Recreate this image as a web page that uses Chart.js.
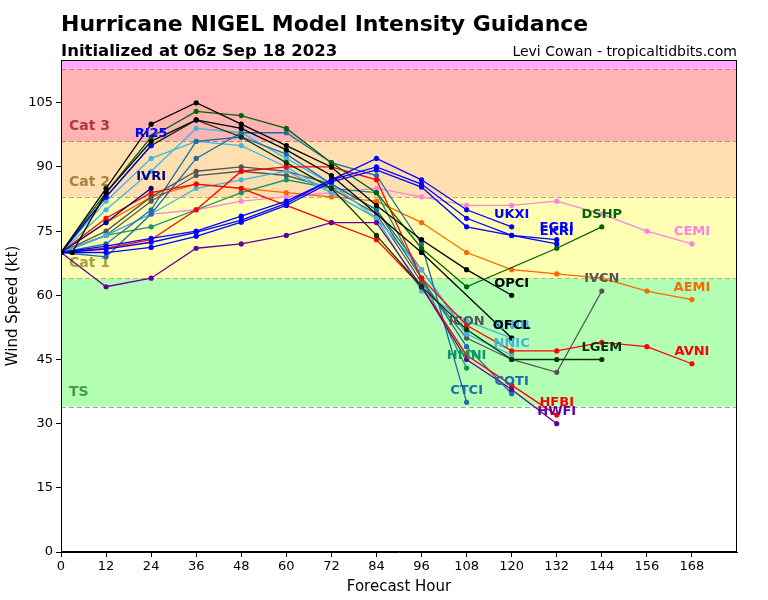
<!DOCTYPE html>
<html>
<head>
<meta charset="utf-8">
<script src="https://cdn.jsdelivr.net/npm/chart.js@4.4.0/dist/chart.umd.min.js"></script>
<style>
  body { margin: 0; background: #fff; }
  canvas { display: block; }
</style>
</head>
<body>
<canvas id="chart" width="768" height="600"></canvas>
<script>
// forecast hours
var hours = [0, 12, 24, 36, 48, 60, 72, 84, 96, 108, 120, 132, 144, 156, 168];
var ofclHours = [3, 12, 24, 36, 48, 60, 72, 96, 120];
var xTicks = [0, 12, 24, 36, 48, 60, 72, 84, 96, 108, 120, 132, 144, 156, 168];
var yTicks = [0, 15, 30, 45, 60, 75, 90, 105];

// model intensities (kt)
var OFCL = [70, 84, 96, 101, 99, 94, 88, 70, 50];
var OPCI = [70, 85, 100, 105, 100, 95, 90, 81, 73, 66, 60];
var DSHP = [70, 84, 97, 103, 102, 99, 91, 84, 71, 62, null, 71, 76];
var LGEM = [70, 83, 95, 101, 97, 91, 85, 74, 62, 52, 45, 45, 45];
var CEMI = [70, 74, 79, 80, 82, 83, 84, 85, 83, 81, 81, 82, 79, 75, 72];
var AEMI = [70, 77, 83, 86, 85, 84, 83, 82, 77, 70, 66, 65, 64, 61, 59];
var AVNI = [70, 71, 73, 80, 89, 90, 90, 87, 64, 53, 47, 47, 49, 48, 44];
var HFBI = [70, 78, 84, 86, 85, 81, 77, 73, 62, 46, 39, 32];
var HWFI = [70, 62, 64, 71, 72, 74, 77, 77, 62, 45, 38, 30];
var ICON = [70, 75, 83, 89, 90, 89, 86, 80, 66, 51];
var IVCN = [70, 74, 82, 88, 89, 88, 85, 79, 63, 50, 45, 42, 61];
var HMNI = [70, 74, 76, 80, 84, 87, 85, 84, 64, 43];
var CTCI = [70, 69, 79, 92, 98, 98, 91, 88, 72, 35];
var COTI = [70, 72, 80, 96, 97, 93, 86, 80, 64, 48, 37];
var NNIC = [70, 80, 89, 99, 98, 92, 86, 78, 66, 51, 46];
var NNIB = [70, 82, 92, 96, 95, 90, 84, 78, 61, 54, 50];
var NNIX = [70, 74, 79, 85, 87, 89, 84, 78, 66, 51];
var RI25 = [70, 83, 95];
var IVRI = [70, 77, 85];
var UKXI = [70, 71.5, 73.3, 75, 78.5, 82, 87, 92, 87, 80, 76];
var EGRI = [70, 70.8, 72.4, 74.7, 77.6, 81.5, 87, 90, 86, 78, 74, 73];
var EKRI = [70, 70, 71.2, 73.8, 77.1, 81, 86.5, 89.3, 85.3, 76, 74, 72];

// intensity categories
var bandEdges = [34, 64, 83, 96, 113, 115];
var bandNames = ['TS', 'Cat 1', 'Cat 2', 'Cat 3', ''];

var bandFill = ['#b3ffb3', '#ffffb3', '#ffdfb0', '#ffb3b3', '#ffaaff'];
var bandLine = ['#80b880', '#b8b868', '#c8a070', '#c87a7a', '#d070a0'];
var bandText = ['#40a040', '#a8a040', '#a88040', '#b03838', ''];

function pts(hrs, vals) {
  var out = [];
  for (var i = 0; i < vals.length; i++) {
    if (vals[i] != null) out.push({x: hrs[i], y: vals[i]});
  }
  return out;
}

function model(name, hrs, vals, color, tag) {
  return {
    label: name,
    data: pts(hrs, vals),
    borderColor: color,
    backgroundColor: color,
    borderWidth: 1.3,
    pointRadius: 2.6,
    pointBorderWidth: 0,
    pointHoverRadius: 2.6,
    tension: 0,
    tag: tag
  };
}

var datasets = [
  model('OFCL', ofclHours, OFCL, '#000000', true),
  model('OPCI', hours, OPCI, '#000000', true),
  model('RI25', hours, RI25, '#0000ff', true),
  model('IVRI', hours, IVRI, '#000080', true),
  model('UKXI', hours, UKXI, '#0000ff', true),
  model('EGRI', hours, EGRI, '#0000ff', true),
  model('EKRI', hours, EKRI, '#0000ff', true),
  model('DSHP', hours, DSHP, '#006400', true),
  model('LGEM', hours, LGEM, '#0a330a', true),
  model('HWFI', hours, HWFI, '#660099', true),
  model('HFBI', hours, HFBI, '#ff0000', true),
  model('AVNI', hours, AVNI, '#ff0000', true),
  model('COTI', hours, COTI, '#1b6ca8', true),
  model('CTCI', hours, CTCI, '#1b6ca8', true),
  model('NNIC', hours, NNIC, '#44b4dd', true),
  model('NNIB', hours, NNIB, '#44b4dd', true),
  model('NNIX', hours, NNIX, '#44b4dd', false),
  model('HMNI', hours, HMNI, '#129566', true),
  model('ICON', hours, ICON, '#555555', true),
  model('IVCN', hours, IVCN, '#555555', true),
  model('AEMI', hours, AEMI, '#ff6600', true),
  model('CEMI', hours, CEMI, '#ff80e6', true)
];

var bands = {
  id: 'bands',
  beforeDatasetsDraw: function(chart) {
    var ctx = chart.ctx, a = chart.chartArea, y = chart.scales.y;
    ctx.save();
    for (var i = 0; i < bandFill.length; i++) {
      var top = y.getPixelForValue(bandEdges[i + 1]);
      var bot = y.getPixelForValue(bandEdges[i]);
      ctx.fillStyle = bandFill[i];
      ctx.fillRect(a.left, top, a.right - a.left, bot - top);
    }
    ctx.lineWidth = 1.2;
    ctx.setLineDash([5, 3]);
    for (var j = 0; j < 5; j++) {
      var py = Math.round(y.getPixelForValue(bandEdges[j])) + 0.5;
      ctx.strokeStyle = bandLine[j];
      ctx.beginPath();
      ctx.moveTo(a.left, py);
      ctx.lineTo(a.right, py);
      ctx.stroke();
    }
    ctx.setLineDash([]);
    ctx.font = 'bold 14px "DejaVu Sans"';
    ctx.textAlign = 'left';
    ctx.textBaseline = 'middle';
    for (var k = 0; k < 4; k++) {
      ctx.fillStyle = bandText[k];
      ctx.fillText(bandNames[k], a.left + 8, y.getPixelForValue(bandEdges[k] + 3.4));
    }
    ctx.restore();
  },
  afterDatasetsDraw: function(chart) {
    var ctx = chart.ctx, a = chart.chartArea;
    ctx.save();
    ctx.font = 'bold 13px "DejaVu Sans"';
    ctx.textAlign = 'center';
    ctx.textBaseline = 'middle';
    for (var i = chart.data.datasets.length - 1; i >= 0; i--) {
      var ds = chart.data.datasets[i];
      if (!ds.tag) continue;
      var last = ds.data[ds.data.length - 1];
      ctx.fillStyle = ds.borderColor;
      ctx.fillText(ds.label, chart.scales.x.getPixelForValue(last.x), chart.scales.y.getPixelForValue(last.y) - 12);
    }
    ctx.strokeStyle = '#000';
    ctx.lineWidth = 1;
    ctx.strokeRect(a.left + 0.5, a.top + 0.5, a.right - a.left - 1, a.bottom - a.top - 1);
    ctx.restore();
  },
  afterDraw: function(chart) {
    var ctx = chart.ctx;
    ctx.save();
    ctx.fillStyle = '#000';
    ctx.textBaseline = 'alphabetic';
    ctx.textAlign = 'left';
    ctx.font = 'bold 22px "DejaVu Sans"';
    ctx.fillText('Hurricane NIGEL Model Intensity Guidance', 61, 31);
    ctx.font = 'bold 16.5px "DejaVu Sans"';
    ctx.fillText('Initialized at 06z Sep 18 2023', 61, 56);
    ctx.textAlign = 'right';
    ctx.font = '14px "DejaVu Sans"';
    ctx.fillText('Levi Cowan - tropicaltidbits.com', 737, 56);
    ctx.restore();
  }
};

new Chart(document.getElementById('chart'), {
  type: 'line',
  data: { datasets: datasets },
  plugins: [bands],
  options: {
    responsive: false,
    animation: false,
    devicePixelRatio: 1,
    spanGaps: true,
    layout: { padding: { top: 60, right: 31, left: 0, bottom: 0 } },
    plugins: { legend: { display: false }, tooltip: { enabled: false } },
    scales: {
      x: {
        type: 'linear',
        min: 0,
        max: 180,
        afterFit: function(s) { s.height = 48; },
        afterBuildTicks: function(s) { s.ticks = xTicks.map(function(v) { return {value: v}; }); },
        grid: { drawOnChartArea: false, drawTicks: true, tickLength: 5, color: '#000' },
        border: { color: '#000' },
        ticks: { color: '#000', font: { family: 'DejaVu Sans', size: 13 }, padding: 2, maxRotation: 0 },
        title: { display: true, text: 'Forecast Hour', color: '#000', font: { family: 'DejaVu Sans', size: 15 }, padding: { top: 2 } }
      },
      y: {
        min: 0,
        max: 115,
        afterFit: function(s) { s.width = 61; },
        afterBuildTicks: function(s) { s.ticks = yTicks.map(function(v) { return {value: v}; }); },
        grid: { drawOnChartArea: false, drawTicks: true, tickLength: 5, color: '#000' },
        border: { color: '#000' },
        ticks: { color: '#000', font: { family: 'DejaVu Sans', size: 13 }, padding: 3 },
        title: { display: true, text: 'Wind Speed (kt)', color: '#000', font: { family: 'DejaVu Sans', size: 15 }, padding: { bottom: 0 } }
      }
    }
  }
});
</script>
</body>
</html>
